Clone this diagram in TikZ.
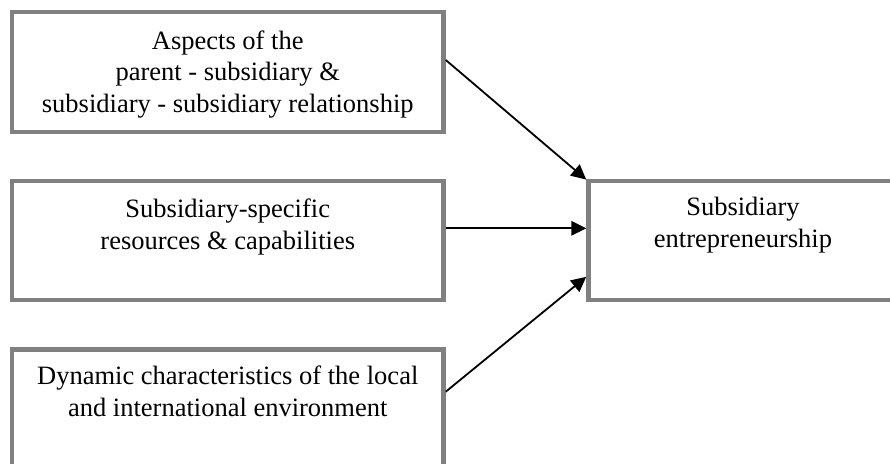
\documentclass[tikz,border=0pt]{standalone}
\usepackage{fontspec}
\setmainfont{Liberation Serif}
\usetikzlibrary{arrows.meta}
\definecolor{boxgray}{RGB}{128,128,128}
\begin{document}
\begin{tikzpicture}[x=1pt,y=-1pt,
  box/.style={draw=boxgray, line width=4.5pt, fill=white, inner sep=0pt, minimum width=431.5pt},
  rbox/.style={draw=boxgray, line width=4.5pt, fill=white, inner sep=0pt, minimum width=309.5pt},
  label/.style={anchor=north, inner sep=0pt, align=center, font=\fontsize{26.5pt}{31.6pt}\selectfont},
  arr/.style={line width=1.8pt, -{Triangle[length=15pt,width=14.5pt]}}]
\useasboundingbox (0,0) rectangle (890,463);
\clip (0,0) rectangle (890,463);
\node[box, minimum height=120pt] (b1) at (227.75,72) {};
\node[box, minimum height=119pt] (b2) at (227.75,240.6) {};
\node[box, minimum height=119pt] (b3) at (227.75,409) {};
\node[rbox, minimum height=119pt] (r) at (743.25,240.6) {};
\node[label] (t1) at (227.75,30.2) {Aspects of the\\parent - subsidiary \&\\subsidiary - subsidiary relationship};
\node[label] (t2) at (227.75,198.6) {Subsidiary-specific\\resources \& capabilities};
\node[label] (t3) at (227.75,365.9) {Dynamic characteristics of the local\\and international environment};
\node[label] (t4) at (743,196.9) {Subsidiary\\entrepreneurship};
\draw[arr] ([yshift=12pt]b1.east) -- ([yshift=61pt]r.west);
\draw[arr] ([yshift=12.3pt]b2.east) -- ([yshift=12.3pt]r.west);
\draw[arr] ([yshift=17.3pt]b3.east) -- ([yshift=-36.2pt]r.west);
\end{tikzpicture}
\end{document}
